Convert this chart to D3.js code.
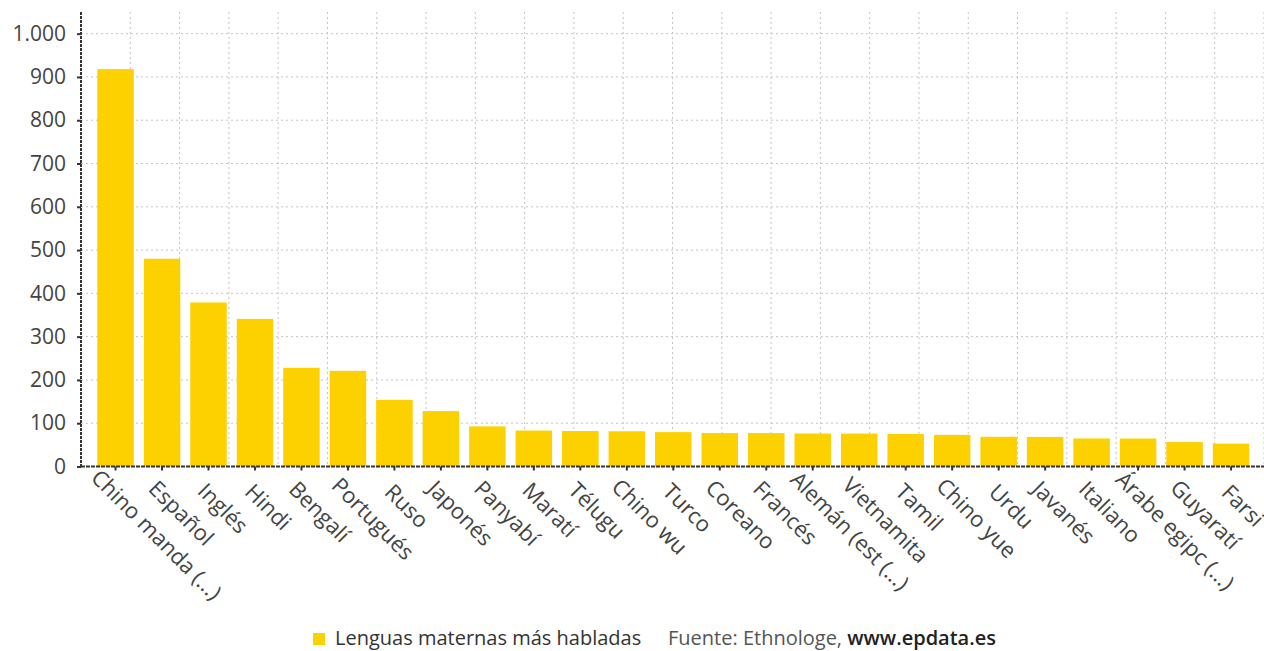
<!DOCTYPE html>
<html><head><meta charset="utf-8">
<script src="https://cdn.jsdelivr.net/npm/d3@7/dist/d3.min.js"></script>
<style>
html,body{margin:0;padding:0;background:#fff;}
svg{display:block;font-family:"Open Sans",sans-serif;}
</style></head>
<body><svg id="c" width="1264" height="651"></svg>
<script>
const categories = ["Chino manda (...)","Español","Inglés","Hindi","Bengalí","Portugués","Ruso","Japonés","Panyabí","Maratí","Télugu","Chino wu","Turco","Coreano","Francés","Alemán (est (...)","Vietnamita","Tamil","Chino yue","Urdu","Javanés","Italiano","Árabe egipc (...)","Guyaratí","Farsi"];
const values = [918,480,379,341,228,221,154,128,92.7,83.1,82,81.4,79.4,77.2,77.2,76.1,76,75,73.1,68.6,68.3,64.8,64.6,56.4,52.8];
const yTicks = [0,100,200,300,400,500,600,700,800,900,1000];
const seriesName = "Lenguas maternas más habladas";
const sourceText = "Fuente: Ethnologe, ";
const sourceLink = "www.epdata.es";

const svg = d3.select("#c");
const pL = 81, pR = 1264, pT = 12, pB = 466.5;
const x = d3.scaleBand().domain(categories).range([92.3, 1254.3]).paddingInner(0.215).paddingOuter(0.1075);
const y = d3.scaleLinear().domain([0, 1050]).range([pB, pT]);
const fmt = d => d3.format(",")(d).replace(/,/g, ".");

// vertical gridlines
const vg = d3.scaleLinear().domain([0, 24]).range([pL, pR]);
svg.append("g").selectAll("line").data(d3.range(1, 25)).join("line")
  .attr("x1", d => vg(d)).attr("x2", d => vg(d)).attr("y1", pT).attr("y2", pB)
  .attr("stroke", "#c4c4c4").attr("stroke-width", 1).attr("stroke-dasharray", "2,3");
// horizontal gridlines
svg.append("g").selectAll("line").data(yTicks.slice(1)).join("line")
  .attr("x1", pL).attr("x2", pR).attr("y1", d => y(d)).attr("y2", d => y(d))
  .attr("stroke", "#c4c4c4").attr("stroke-width", 1).attr("stroke-dasharray", "2,3");

// bars
svg.append("g").selectAll("rect").data(values).join("rect")
  .attr("x", (d, i) => x(categories[i])).attr("width", x.bandwidth())
  .attr("y", d => y(d)).attr("height", d => y(0) - y(d))
  .attr("fill", "#fdd000");

// y axis
const ya = svg.append("g").attr("transform", `translate(${pL},0)`)
  .call(d3.axisLeft(y).tickValues(yTicks).tickFormat(fmt).tickSize(4).tickPadding(11));
ya.select(".domain").remove();
ya.selectAll(".tick line").attr("stroke", "#333").attr("stroke-width", 2);
ya.selectAll(".tick text").attr("fill", "#444").attr("font-size", "21px").attr("font-family", "Open Sans");
svg.append("line").attr("x1", pL).attr("x2", pL).attr("y1", pT).attr("y2", pB + 1)
  .attr("stroke", "#333").attr("stroke-width", 2).attr("stroke-dasharray", "3,1");

// x axis
const xa = svg.append("g").attr("transform", `translate(0,${pB})`)
  .call(d3.axisBottom(x).tickSize(4).tickFormat(""));
xa.select(".domain").remove();
xa.selectAll(".tick line").attr("stroke", "#333").attr("stroke-width", 2);
svg.append("line").attr("x1", pL).attr("x2", pR).attr("y1", pB).attr("y2", pB)
  .attr("stroke", "#333").attr("stroke-width", 2).attr("stroke-dasharray", "4,1");

const lbl = svg.append("g").selectAll("text").data(categories).join("text")
  .attr("transform", d => `translate(${x(d) + x.bandwidth() / 2},${pB}) rotate(45)`)
  .attr("y", 27).attr("font-size", "22px").attr("fill", "#444").attr("font-family", "Open Sans")
  .text(d => d);
lbl.attr("x", function () { const L = this.getComputedTextLength(); return 20 - 0.17 * L; });

// legend
const lg = svg.append("g");
lg.append("rect").attr("x", 313).attr("y", 633).attr("width", 12).attr("height", 12).attr("fill", "#fdd000");
lg.append("text").attr("x", 335).attr("y", 645).attr("font-size", "20px").attr("fill", "#333").text(seriesName);
const src = lg.append("text").attr("x", 668).attr("y", 645).attr("font-size", "20px").attr("fill", "#555");
src.append("tspan").text(sourceText);
src.append("tspan").attr("fill", "#222").attr("font-weight", 600).text(sourceLink);
</script></body></html>
